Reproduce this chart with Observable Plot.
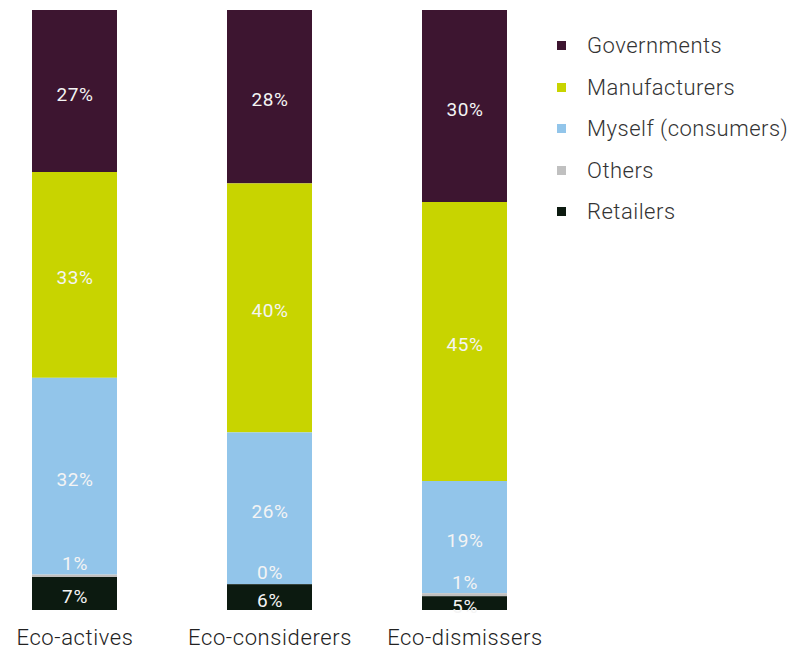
<!DOCTYPE html>
<html>
<head>
<meta charset="utf-8">
<script src="https://cdn.jsdelivr.net/npm/d3@7"></script>
<script src="https://cdn.jsdelivr.net/npm/@observablehq/plot@0.6"></script>
<style>
  html, body { margin: 0; padding: 0; background: #fff; }
  #wrap { position: relative; width: 794px; height: 653px; font-family: Roboto, "Noto Sans", sans-serif; }
  #legend { position: absolute; left: 557px; top: 25px; }
  .item { display: flex; align-items: center; height: 41.5px; font-size: 22px; font-weight: 300; letter-spacing: 0.5px; color: #333; white-space: nowrap; }
  .sw { width: 9px; height: 9px; margin-right: 21px; }
</style>
</head>
<body>
<div id="wrap">
  <div id="chart"></div>
  <div id="legend"></div>
</div>
<script>
// Groups (x categories)
const groups = ["Eco-actives", "Eco-considerers", "Eco-dismissers"];
// Series, legend order (top of bar first)
const series = ["Governments", "Manufacturers", "Myself (consumers)", "Others", "Retailers"];
const colors = ["#3d1530", "#c8d400", "#92c5ea", "#c0c0c0", "#0c1a10"];

// Bar lengths as drawn (share of bar, %)
const governments   = [27.0, 28.9, 32.0];
const manufacturers = [34.3, 41.5, 46.5];
const myself        = [32.8, 25.3, 18.7];
const others        = [0.4, 0.0, 0.5];
const retailers     = [5.5, 4.3, 2.3];

// Printed labels (%)
const governmentsLabel   = [27, 28, 30];
const manufacturersLabel = [33, 40, 45];
const myselfLabel        = [32, 26, 19];
const othersLabel        = [1, 0, 1];
const retailersLabel     = [7, 6, 5];

const values = [governments, manufacturers, myself, others, retailers];
const labels = [governmentsLabel, manufacturersLabel, myselfLabel, othersLabel, retailersLabel];

const data = [];
series.forEach((s, i) => groups.forEach((g, j) => {
  data.push({group: g, source: s, value: values[i][j], label: labels[i][j]});
}));

const stackOrder = series.slice().reverse(); // bottom to top

const chart = Plot.plot({
  width: 560,
  height: 653,
  marginTop: 10,
  marginBottom: 43,
  marginLeft: 0,
  marginRight: 21,
  style: {fontFamily: "Roboto, 'Noto Sans', sans-serif", background: "#fff", overflow: "visible"},
  x: {domain: groups, paddingInner: 0.564, paddingOuter: 0.164, label: null},
  y: {domain: [0, 100], axis: null},
  color: {domain: series, range: colors},
  marks: [
    Plot.barY(data, Plot.stackY({x: "group", y: "value", z: "source", order: stackOrder, fill: "source"})),
    Plot.text(data, Plot.stackY({
      x: "group", y: "value", z: "source", order: stackOrder,
      text: d => d.source === "Others" ? null : d.label + "%",
      fill: "#f4f4f4", fontSize: 19, fontWeight: 400, dy: 3
    })),
    Plot.text(data, Plot.stackY({
      x: "group", y: "value", z: "source", order: stackOrder,
      text: d => d.source === "Others" ? d.label + "%" : null,
      fill: "#f4f4f4", fontSize: 19, fontWeight: 400, dy: -12
    })),
    Plot.axisX({tickSize: 0, tickPadding: 19, fontSize: 22, fontWeight: 300, color: "#222", label: null})
  ]
});
chart.querySelectorAll("text").forEach(t => t.style.letterSpacing = "0.6px");
document.getElementById("chart").appendChild(chart);

const legend = document.getElementById("legend");
series.forEach((s, i) => {
  const item = document.createElement("div");
  item.className = "item";
  const sw = document.createElement("span");
  sw.className = "sw";
  sw.style.background = colors[i];
  const t = document.createElement("span");
  t.textContent = s;
  item.appendChild(sw);
  item.appendChild(t);
  legend.appendChild(item);
});
</script>
</body>
</html>
